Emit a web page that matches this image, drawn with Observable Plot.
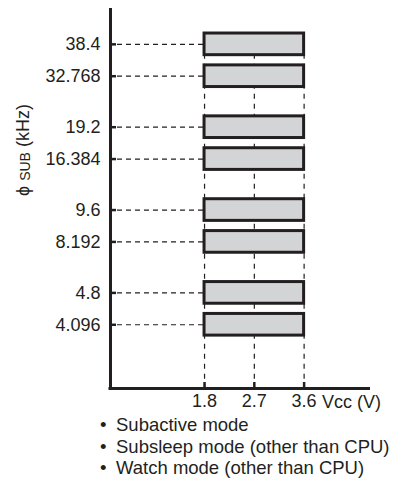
<!DOCTYPE html>
<html>
<head>
<meta charset="utf-8">
<script src="https://cdn.jsdelivr.net/npm/d3@7"></script>
<script src="https://cdn.jsdelivr.net/npm/@observablehq/plot@0.6"></script>
<style>
  body { margin: 0; background: #fff; font-family: "Liberation Sans", Arial, Helvetica, sans-serif; color: #231f20; }
  #modes { list-style: none; margin: 0; padding: 2px 0 0 100px; font-size: 18.5px; line-height: 21.5px; }
  #modes li::before { content: "\2022"; display: inline-block; width: 16px; }
</style>
</head>
<body>
<div id="chart"></div>
<ul id="modes"></ul>
<script>
// Operating frequencies (kHz), top to bottom
const freqLabels = ["38.4", "32.768", "19.2", "16.384", "9.6", "8.192", "4.8", "4.096"];
// Vcc range (V)
const vccMin = 1.8;
const vccMax = 3.6;
const vccTicks = [1.8, 2.7, 3.6];
const modes = ["Subactive mode", "Subsleep mode (other than CPU)", "Watch mode (other than CPU)"];

// schematic vertical slots: pairs of frequencies with a gap between pairs
const rows = freqLabels.map((f, i) => ({f, level: Math.floor(i / 2) * 2.6 + (i % 2)}));
const levels = rows.map(d => d.level);
const xDomain = [0.1, 4.8];
const yDomain = [-1.125, 10.8];
const ink = "#231f20";

const plot = Plot.plot({
  width: 399,
  height: 412,
  marginLeft: 110,
  marginRight: 29,
  marginTop: 8,
  marginBottom: 24,
  style: {fontFamily: '"Liberation Sans", Arial, Helvetica, sans-serif', fontSize: "18px", color: ink, background: "#fff"},
  x: {domain: xDomain},
  y: {domain: yDomain, reverse: true},
  marks: [
    // vertical dashed guides
    Plot.ruleX(vccTicks, {y1: levels[0], y2: yDomain[1], stroke: ink, strokeWidth: 1.2, strokeDasharray: "5,5"}),
    // horizontal dashed leaders
    Plot.ruleY(rows, {y: "level", x1: xDomain[0], x2: vccMin, stroke: ink, strokeWidth: 1.2, strokeDasharray: "5,4", insetLeft: 7}),
    // range bars
    Plot.rect(rows, {x1: vccMin, x2: vccMax, y1: d => d.level - 0.34, y2: d => d.level + 0.34, fill: "#d3d4d5", stroke: ink, strokeWidth: 3}),
    Plot.axisY(levels, {tickSize: -6, tickPadding: 16, strokeWidth: 2.5, tickFormat: (d, i) => freqLabels[i], fontSize: 18, label: null}),
    Plot.axisX(vccTicks, {tickSize: -6, tickPadding: 12, strokeWidth: 2.5, tickFormat: d => d.toFixed(1), fontSize: 18, label: null}),
    Plot.text(["Vcc (V)"], {x: vccMax, frameAnchor: "bottom", dy: 14, dx: 18, textAnchor: "start", lineAnchor: "middle", fontSize: 18, fill: ink}),
    // axis lines
    Plot.ruleX([xDomain[0]], {stroke: ink, strokeWidth: 3}),
    Plot.ruleY([yDomain[1]], {stroke: ink, strokeWidth: 3, insetLeft: -1.5})
  ]
});

// y-axis title with subscript
const svg = d3.select(plot);
const yt = svg.append("text")
  .attr("transform", "translate(29,150) rotate(-90)")
  .attr("text-anchor", "middle")
  .attr("fill", ink)
  .attr("font-size", 18);
yt.append("tspan").text("ϕ ");
yt.append("tspan").attr("font-size", 14).attr("dy", 1).text("SUB");
yt.append("tspan").attr("dy", -1).text(" (kHz)");

document.getElementById("chart").appendChild(plot);
d3.select("#modes").selectAll("li").data(modes).join("li").text(d => d);
</script>
</body>
</html>
